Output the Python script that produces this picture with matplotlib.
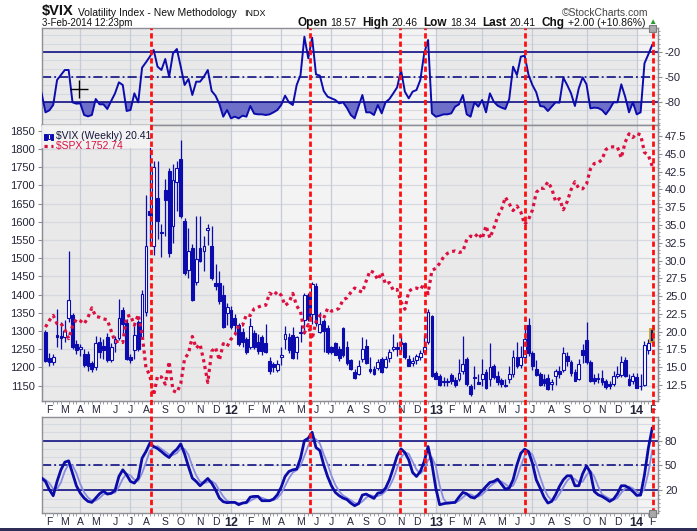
import numpy as np
import pandas as pd
import matplotlib
matplotlib.use('Agg')
import matplotlib.pyplot as plt
from matplotlib.lines import Line2D
from matplotlib.patches import Rectangle
import matplotlib.transforms as mtransforms

plt.rcParams['font.family'] = ['Liberation Sans', 'DejaVu Sans']

# ---------------- data ----------------
dates = pd.date_range('2011-01-31', periods=158, freq='W-MON')

vix_open = [20.0, 16.3, 15.7, 19.5, 19.4, 19.2, 21.9, 22.3, 18.3, 17.5,
            16.9, 16.9, 15.6, 15.0, 18.6, 18.0, 19.3, 16.0, 18.4, 19.1,
            23.0, 21.2, 16.5, 17.4, 21.3, 19.3, 22.7, 37.0, 32.0, 38.8,
            34.0, 39.9, 42.6, 34.8, 41.0, 44.3, 35.6, 28.6, 31.7, 27.0,
            31.7, 31.3, 34.3, 32.0, 26.9, 26.8, 25.2, 22.6, 23.0, 21.9,
            21.0, 19.9, 19.0, 17.9, 19.8, 18.6, 19.3, 18.4, 15.9, 15.5,
            14.6, 16.4, 19.0, 19.3, 19.5, 17.2, 19.8, 21.6, 25.1, 22.5,
            26.4, 20.0, 21.5, 20.5, 17.9, 18.4, 17.6, 20.5, 17.9, 16.0,
            14.3, 14.1, 16.2, 18.0, 14.8, 14.8, 14.9, 16.1, 15.0, 16.3,
            17.6, 17.8, 18.2, 18.4, 16.1, 15.6, 16.0, 16.5, 17.1, 18.5,
            22.2, 14.2, 13.8, 13.0, 13.1, 13.9, 13.2, 13.4, 14.5, 16.2,
            12.4, 13.5, 12.9, 13.4, 14.3, 13.4, 15.1, 13.7, 13.2, 12.5,
            13.4, 14.1, 16.4, 15.3, 16.5, 20.9, 17.0, 14.7, 14.1, 13.3,
            13.5, 12.6, 13.7, 14.4, 14.6, 16.6, 15.8, 14.3, 13.4, 17.4,
            18.8, 15.8, 13.5, 13.3, 13.5, 13.0, 12.6, 12.6, 13.8, 13.9,
            16.0, 13.4, 13.0, 13.6, 12.3, 12.5, 17.4, 18.57]
vix_high = [20.2, 17.0, 16.9, 23.2, 21.3, 21.6, 31.3, 22.6, 18.8, 18.2,
            17.6, 17.3, 15.9, 19.4, 19.2, 18.9, 19.8, 18.4, 19.4, 24.6,
            23.4, 21.8, 16.9, 20.8, 21.7, 25.9, 39.2, 48.0, 44.0, 44.0,
            35.2, 41.5, 43.0, 43.5, 44.0, 46.9, 36.0, 34.6, 32.3, 36.3,
            36.2, 33.5, 35.2, 34.8, 29.5, 28.5, 26.5, 24.0, 23.6, 22.5,
            21.2, 20.5, 19.3, 21.9, 20.3, 19.6, 19.5, 21.1, 16.5, 15.8,
            16.0, 17.9, 20.8, 19.8, 20.6, 19.4, 20.9, 25.5, 25.4, 27.0,
            26.8, 22.7, 21.8, 21.0, 18.0, 18.5, 18.0, 20.7, 18.7, 16.2,
            14.8, 16.0, 19.3, 18.9, 16.5, 15.2, 16.1, 16.4, 16.6, 17.5,
            19.6, 18.6, 19.5, 18.6, 16.7, 16.5, 16.8, 17.4, 19.5, 23.2,
            22.4, 14.4, 14.0, 13.6, 13.5, 14.2, 13.6, 16.2, 19.4, 16.5,
            12.6, 15.2, 14.0, 16.2, 14.8, 18.4, 15.4, 14.5, 13.5, 13.3,
            15.2, 17.4, 18.5, 18.0, 21.0, 21.9, 17.3, 16.0, 14.3, 14.0,
            14.0, 13.4, 14.8, 15.1, 17.8, 17.2, 16.0, 14.8, 16.1, 18.2,
            21.4, 16.0, 14.0, 14.2, 14.6, 13.3, 13.0, 14.4, 15.1, 16.6,
            16.4, 14.0, 14.2, 14.2, 14.0, 18.7, 19.0, 20.46]
vix_low = [15.7, 15.1, 15.3, 17.8, 17.6, 18.5, 21.4, 17.6, 16.9, 16.6,
           15.0, 14.5, 14.3, 14.6, 16.3, 16.2, 15.8, 15.8, 17.2, 18.8,
           19.8, 16.0, 15.6, 16.2, 17.3, 18.9, 22.2, 32.0, 30.8, 33.0,
           30.5, 33.5, 30.5, 32.5, 37.0, 36.0, 27.9, 27.5, 24.3, 26.5,
           29.8, 28.5, 32.2, 27.2, 25.9, 23.9, 20.5, 21.0, 20.4, 20.0,
           18.0, 17.9, 16.8, 17.5, 17.5, 16.8, 16.7, 17.0, 14.0, 14.3,
           14.3, 15.3, 17.5, 17.0, 16.2, 16.1, 18.6, 19.7, 21.5, 21.1,
           20.8, 19.8, 17.2, 16.9, 16.8, 16.7, 15.9, 16.4, 15.3, 14.6,
           13.3, 13.9, 15.8, 15.4, 14.2, 13.9, 14.6, 14.2, 14.9, 15.8,
           17.3, 16.6, 17.2, 16.2, 15.1, 15.2, 15.5, 16.0, 16.8, 18.2,
           13.6, 13.3, 12.4, 12.3, 12.3, 12.6, 12.2, 13.0, 14.0, 12.4,
           11.0, 11.9, 12.6, 12.4, 12.0, 12.3, 13.3, 12.5, 12.2, 12.2,
           12.8, 13.6, 14.9, 14.9, 15.6, 16.6, 14.6, 13.8, 12.3, 12.4,
           11.8, 11.8, 12.5, 13.5, 14.3, 15.2, 13.8, 13.0, 13.2, 15.6,
           15.5, 12.9, 12.6, 12.8, 12.5, 12.0, 12.0, 12.4, 13.5, 13.6,
           13.6, 12.3, 12.7, 12.1, 11.8, 12.3, 16.8, 18.34]
vix_close = [15.9, 15.7, 16.4, 19.2, 19.1, 20.1, 24.4, 17.9, 17.4, 17.9,
             15.3, 15.1, 14.8, 18.4, 17.1, 17.4, 16.0, 17.9, 18.9, 21.9,
             21.1, 16.1, 16.0, 19.5, 17.5, 25.3, 32.0, 36.4, 43.1, 35.6,
             33.9, 38.5, 31.0, 41.3, 43.0, 36.3, 28.2, 31.3, 24.5, 30.2,
             30.0, 32.0, 34.5, 27.5, 26.4, 24.3, 20.7, 23.4, 20.6, 20.9,
             18.3, 18.5, 17.1, 20.8, 17.8, 17.3, 17.3, 17.1, 14.5, 15.0,
             15.5, 16.7, 19.6, 17.4, 16.3, 19.2, 19.9, 25.1, 21.8, 26.7,
             21.2, 21.1, 20.1, 17.1, 17.1, 16.7, 16.3, 16.7, 15.6, 14.7,
             13.5, 15.2, 17.5, 15.6, 14.5, 14.1, 15.7, 14.3, 16.1, 17.1,
             17.8, 17.6, 18.6, 16.4, 15.1, 15.9, 16.6, 17.0, 17.8, 22.7,
             13.8, 13.4, 12.5, 12.9, 12.9, 13.0, 12.5, 14.2, 15.4, 12.6,
             11.3, 13.6, 12.7, 14.0, 12.1, 15.0, 13.6, 12.9, 12.6, 12.4,
             14.1, 16.4, 15.2, 16.5, 18.9, 17.0, 15.1, 13.9, 12.5, 12.8,
             12.0, 12.9, 14.4, 14.0, 17.0, 15.9, 14.2, 13.1, 15.5, 16.7,
             15.7, 13.0, 13.1, 13.3, 12.9, 12.2, 12.3, 13.7, 14.1, 15.8,
             13.8, 12.5, 13.8, 12.1, 12.4, 18.1, 18.4, 20.41]

spx_close = [1310.9, 1329.2, 1343.0, 1319.9, 1321.2, 1304.3, 1279.2, 1313.8, 1332.4, 1328.2,
             1319.7, 1337.4, 1363.6, 1340.2, 1337.8, 1333.3, 1331.1, 1300.2, 1271.0, 1271.5,
             1268.5, 1339.7, 1343.8, 1316.1, 1345.0, 1292.3, 1199.4, 1178.8, 1123.5, 1176.8,
             1174.0, 1154.2, 1216.0, 1136.4, 1131.4, 1155.5, 1224.6, 1238.3, 1285.1, 1253.2,
             1263.9, 1215.7, 1158.7, 1244.3, 1255.2, 1219.7, 1265.3, 1257.6, 1277.8, 1289.1,
             1315.4, 1316.3, 1344.9, 1342.6, 1361.2, 1365.7, 1369.6, 1370.9, 1404.2, 1397.1,
             1408.5, 1398.1, 1370.3, 1378.5, 1403.4, 1369.1, 1353.4, 1295.2, 1317.8, 1278.0,
             1325.7, 1342.8, 1335.0, 1362.2, 1354.7, 1356.8, 1362.7, 1386.0, 1391.0, 1405.9,
             1418.2, 1411.1, 1406.6, 1437.9, 1465.8, 1460.2, 1440.7, 1460.9, 1428.6, 1433.2,
             1411.9, 1414.2, 1379.9, 1359.9, 1409.2, 1416.2, 1418.1, 1413.6, 1430.2, 1402.4,
             1466.5, 1472.1, 1486.0, 1503.0, 1513.2, 1517.9, 1519.8, 1515.6, 1518.2, 1551.2,
             1560.7, 1556.9, 1569.2, 1553.3, 1588.9, 1555.3, 1582.2, 1614.4, 1633.7, 1667.5,
             1649.6, 1630.7, 1643.4, 1626.7, 1592.4, 1606.3, 1631.9, 1680.2, 1692.1, 1691.7,
             1709.7, 1691.4, 1655.8, 1663.5, 1633.0, 1655.2, 1688.0, 1709.9, 1691.8, 1690.5,
             1703.2, 1744.5, 1759.8, 1761.6, 1770.6, 1798.2, 1804.8, 1805.8, 1805.1, 1775.3,
             1818.3, 1841.4, 1831.4, 1842.4, 1838.7, 1790.3, 1782.6, 1752.74]

# indicator series start one bar before the first candle (index -1)
williams_r = [-69.6, -92.4, -90.0, -83.6, -53.6, -47.6, -41.6, -41.6, -80.4, -82.0,
              -81.6, -95.6, -97.2, -95.6, -76.4, -82.8, -82.8, -88.4, -78.8, -69.6,
              -56.4, -59.6, -90.8, -89.6, -69.6, -80.4, -38.8, -32.4, -25.6, -17.6,
              -37.6, -41.6, -28.4, -49.6, -21.6, -16.4, -37.6, -59.6, -52.4, -71.6,
              -55.6, -55.6, -49.6, -41.6, -66.8, -72.4, -82.4, -97.6, -89.6, -99.6,
              -97.6, -99.6, -96.4, -97.6, -84.8, -94.0, -94.8, -94.8, -95.6, -94.8,
              -92.4, -89.6, -83.6, -72.4, -80.4, -83.6, -59.6, -47.6, -1.6, -27.6,
              -2.8, -46.8, -48.4, -66.8, -73.6, -75.6, -77.6, -81.6, -80.4, -87.0,
              -95.6, -99.6, -85.6, -71.6, -92.4, -92.4, -95.6, -83.6, -93.6, -80.4,
              -76.4, -69.6, -62.4, -41.6, -67.6, -75.6, -67.6, -65.6, -53.6, -21.6,
              -5.6, -93.6, -97.6, -96.4, -94.8, -94.8, -93.6, -85.6, -82.8, -71.6,
              -94.8, -97.6, -80.4, -85.6, -77.6, -92.4, -69.6, -79.6, -84.4, -86.8,
              -88.4, -76.4, -37.6, -47.6, -25.6, -24.4, -47.6, -59.6, -68.4, -84.8,
              -85.6, -90.8, -85.6, -80.4, -80.8, -50.8, -59.6, -69.6, -84.8, -63.6,
              -50.4, -58.8, -87.6, -86.8, -87.2, -89.6, -94.8, -88.4, -80.4, -80.4,
              -58.8, -73.6, -92.4, -80.4, -94.8, -92.4, -33.6, -22.8, -11.6]

stoch_k = [34.8, 30.8, 20.8, 13.6, 30.8, 44.8, 54.0, 55.6, 40.8, 25.6,
           16.8, 10.8, 6.8, 5.6, 10.8, 16.0, 19.2, 15.6, 16.4, 20.0,
           36.8, 44.8, 38.8, 30.8, 28.8, 34.8, 58.8, 66.8, 76.8, 72.8,
           70.4, 66.8, 62.8, 59.6, 65.6, 69.6, 76.0, 64.0, 48.8, 34.8,
           30.8, 25.6, 30.0, 34.4, 28.8, 20.8, 10.8, 6.4, 5.2, 5.6,
           5.6, 2.8, 4.8, 5.6, 12.0, 12.8, 12.8, 7.6, 7.6, 7.6,
           9.6, 14.8, 24.0, 36.8, 42.8, 44.8, 45.6, 58.8, 80.0, 82.8,
           90.0, 71.6, 68.0, 50.8, 36.8, 25.6, 17.6, 13.6, 10.8, 9.0,
           4.8, 1.6, 4.0, 14.4, 15.6, 12.8, 10.4, 16.8, 17.6, 22.8,
           32.8, 46.8, 61.6, 70.0, 65.6, 56.8, 41.6, 36.8, 42.8, 54.8,
           72.8, 52.0, 22.8, 2.8, 4.0, 4.8, 5.2, 5.6, 12.0, 17.6,
           16.0, 12.0, 10.8, 14.8, 19.6, 24.8, 29.6, 30.8, 33.6, 27.6,
           21.6, 22.8, 32.8, 50.8, 64.8, 69.6, 66.8, 52.8, 32.8, 22.8,
           12.0, 4.8, 6.8, 14.8, 24.8, 32.8, 37.6, 37.6, 25.6, 25.6,
           40.0, 49.6, 41.6, 18.8, 14.8, 12.8, 10.0, 6.8, 9.6, 16.0,
           25.6, 25.6, 22.8, 18.8, 14.0, 14.4, 38.8, 70.8, 94.8]
stoch_d = [36.0, 33.0, 28.8, 21.7, 21.7, 29.7, 43.2, 51.5, 50.1, 40.7,
           27.7, 17.7, 11.5, 7.7, 7.7, 10.8, 15.3, 16.9, 17.1, 17.3,
           24.4, 33.9, 40.1, 38.1, 32.8, 31.5, 40.8, 53.5, 67.5, 72.1,
           73.3, 70.0, 66.7, 63.1, 62.7, 64.9, 70.4, 69.9, 62.9, 49.2,
           38.1, 30.4, 28.8, 30.0, 31.1, 28.0, 20.1, 12.7, 7.5, 5.7,
           5.5, 4.7, 4.4, 4.4, 7.5, 10.1, 12.5, 11.1, 9.3, 7.6,
           8.3, 10.7, 16.1, 25.2, 34.5, 41.5, 44.4, 49.7, 61.5, 73.9,
           84.3, 81.5, 76.5, 63.5, 51.9, 37.7, 26.7, 18.9, 14.0, 11.1,
           8.2, 5.1, 3.5, 6.7, 11.3, 14.3, 12.9, 13.3, 14.9, 19.1,
           24.4, 34.1, 47.1, 59.5, 65.7, 64.1, 54.7, 45.1, 40.4, 44.8,
           56.8, 59.9, 49.2, 25.9, 9.9, 3.9, 4.7, 5.2, 7.6, 11.7,
           15.2, 15.2, 12.9, 12.5, 15.1, 19.7, 24.7, 28.4, 31.3, 30.7,
           27.6, 24.0, 25.7, 35.5, 49.5, 61.7, 67.1, 63.1, 50.8, 36.1,
           22.5, 13.2, 7.9, 8.8, 15.5, 24.1, 31.7, 36.0, 33.6, 29.6,
           30.4, 38.4, 43.7, 36.7, 25.1, 15.5, 12.5, 9.9, 8.8, 10.8,
           17.1, 22.4, 24.7, 22.4, 18.5, 15.7, 22.4, 41.3, 68.1]

signal_bars = [27.4, 68.5, 91.8, 98.3, 124.2, 157.1]

spx_ticks = list(range(1150, 1851, 50))
vix_ticks = [12.5, 15.0, 17.5, 20.0, 22.5, 25.0, 27.5, 30.0, 32.5, 35.0, 37.5, 40.0, 42.5, 45.0, 47.5]
wr_ticks = [-80, -50, -20]
st_ticks = [20, 50, 80]

# ---------------- layout ----------------
W, H = 697, 531
fig = plt.figure(figsize=(W / 100, H / 100), dpi=100)
fig.patch.set_facecolor('white')


def rect(x0, y0, x1, y1):
    return [x0 / W, 1 - y1 / H, (x1 - x0) / W, (y1 - y0) / H]


ax_t = fig.add_axes(rect(42, 28, 658, 124.5))
ax_v = fig.add_axes(rect(42, 124.5, 658, 401))
ax_s = ax_v.twinx()
ax_b = fig.add_axes(rect(42, 417, 658, 513))

BLUE = '#0c0cae'
NAVY = '#00007a'
GRID = '#d6d9e1'
VGRID = '#c6cbd6'
SPINE = '#8e8e96'
TXT = '#25253a'
XL = (-0.9, 158.5)

x = np.arange(len(dates))
xi = np.arange(-1, len(dates))

month_pos, month_lab, quarter_pos, year_pos = [], [], [], []
for i in range(1, len(dates)):
    if dates[i].month != dates[i - 1].month:
        m = dates[i].month
        month_pos.append(i)
        month_lab.append(dates[i].strftime('%y') if m == 1 else 'JFMAMJJASOND'[m - 1])
        if m in (1, 4, 7, 10):
            quarter_pos.append(i)
        if m == 1:
            year_pos.append(i)

bounds = [XL[0]] + year_pos + [XL[1]]


def base(ax):
    ax.set_xlim(*XL)
    ax.set_facecolor('#ebebeb')
    for k in range(len(bounds) - 1):
        ax.axvspan(bounds[k], bounds[k + 1], color='#e9e9e9' if k % 2 == 0 else '#f3f3f3', lw=0, zorder=0)
    for q in quarter_pos:
        ax.axvline(q, color=VGRID, lw=0.9, zorder=0.6)
    for sp in ax.spines.values():
        sp.set_color(SPINE)
        sp.set_linewidth(1.0)


# ---- top panel: Williams %R ----
base(ax_t)
ax_t.set_ylim(-107, 8.8)
for g in range(-100, 1, 10):
    ax_t.axhline(g, color=GRID, lw=0.8, zorder=0.5)
wr = np.array(williams_r)
ax_t.fill_between(xi, wr, -80, where=wr <= -80, interpolate=True, color='#6d6fc8', lw=0, zorder=2)
ax_t.axhline(-20, color=NAVY, lw=1.1, zorder=2.5)
ax_t.axhline(-80, color=NAVY, lw=1.1, zorder=2.5)
ax_t.axhline(-50, color=NAVY, lw=1.1, ls=(0, (6, 2, 1.2, 2)), zorder=2.5)
ax_t.plot(xi, wr, color=BLUE, lw=1.4, zorder=3)
ax_t.yaxis.tick_right()
ax_t.set_yticks(wr_ticks)
ax_t.set_yticklabels([str(t) for t in wr_ticks])
ax_t.set_yticks(np.arange(-105, 9, 5), minor=True)
ax_t.tick_params(axis='y', which='major', length=3, color=SPINE, labelsize=8, labelcolor=TXT, pad=2)
ax_t.tick_params(axis='y', which='minor', length=1.5, color=SPINE)
ax_t.set_xticks([])
# mouse cursor cross-hair seen in the screenshot
ax_t.plot([0.0605], [0.37], transform=ax_t.transAxes, marker='+', ms=13, mew=1.0, color='black', zorder=6)

# ---- middle panel: VIX candles + SPX ----
base(ax_v)
ax_v.set_ylim(10.25, 49.12)
ax_s.set_ylim(1108.0, 1867.0)
blend_s = mtransforms.blended_transform_factory(ax_v.transAxes, ax_s.transData)
for g in spx_ticks:
    ax_v.add_line(Line2D([0, 1], [g, g], transform=blend_s, color=GRID, lw=0.9, zorder=0.5))

o = np.array(vix_open); h = np.array(vix_high); l = np.array(vix_low); c = np.array(vix_close)
ax_v.vlines(x, l, h, color=BLUE, lw=0.9, zorder=2)
bottom = np.minimum(o, c)
height = np.maximum(np.abs(c - o), 0.12)
hollow = c > o
face = np.where(hollow, 'white', BLUE)
ax_v.bar(x[:-1], height[:-1], bottom=bottom[:-1], width=0.72, color=face[:-1], edgecolor=BLUE,
         linewidth=0.8, zorder=3)
# current (highlighted) week
ax_v.bar(x[-1:], height[-1:], bottom=bottom[-1:], width=0.95, color=BLUE, edgecolor='#c9a21a',
         linewidth=1.3, zorder=3)

ax_s.patch.set_visible(False)
ax_s.plot(x, spx_close, color='#dc1040', lw=2.3, ls=(0, (1.0, 1.15)), zorder=4)

ax_v.yaxis.tick_right()
ax_v.set_yticks(vix_ticks)
ax_v.set_yticklabels(['%.1f' % t for t in vix_ticks])
ax_v.set_yticks(np.arange(10.5, 49.1, 0.5), minor=True)
ax_v.tick_params(axis='y', which='major', length=3, color=SPINE, labelsize=8, labelcolor=TXT, pad=2)
ax_v.tick_params(axis='y', which='minor', length=1.5, color=SPINE)
ax_s.yaxis.tick_left()
ax_s.set_yticks(spx_ticks)
ax_s.set_yticklabels([str(t) for t in spx_ticks])
ax_s.tick_params(axis='y', length=3, color=SPINE, labelsize=8, labelcolor=TXT, pad=2)
for sp in ax_s.spines.values():
    sp.set_color(SPINE)


def xlabels(ax):
    ax.set_xticks(month_pos)
    ax.set_xticklabels(month_lab)
    ax.set_xticks(x, minor=True)
    ax.tick_params(axis='x', which='major', length=0, labelsize=7.5, labelcolor=TXT, pad=3)
    ax.tick_params(axis='x', which='minor', length=2, width=0.6, color=SPINE)
    for t, lab in zip(ax.get_xticklabels(), month_lab):
        if lab.isdigit():
            t.set_fontweight('bold')
            t.set_fontsize(9)


xlabels(ax_v)

# legend
ax_s.add_patch(Rectangle((0, 0.915), 0.178, 0.085, transform=ax_s.transAxes, facecolor='#f4f4f4',
                         edgecolor='none', alpha=0.9, zorder=5))
ax_s.text(0.022, 0.957, '$VIX (Weekly) 20.41', transform=ax_s.transAxes, fontsize=7.5,
          color='#16163c', va='center', ha='left', zorder=6)
ax_s.text(0.022, 0.922, '$SPX 1752.74', transform=ax_s.transAxes, fontsize=7.5,
          color='#dc1040', va='center', ha='left', zorder=6)
for dx, (bb, hh, filled) in zip([0.004, 0.009, 0.014], [(0.945, 0.02, True), (0.948, 0.017, False), (0.944, 0.022, True)]):
    ax_s.add_patch(Rectangle((dx, bb), 0.004, hh, transform=ax_s.transAxes,
                             facecolor=BLUE if filled else 'white', edgecolor=BLUE, lw=0.7, zorder=6))
ax_s.plot([0.004, 0.018], [0.923, 0.923], transform=ax_s.transAxes, color='#dc1040', lw=2.3,
          ls=(0, (1.0, 1.15)), zorder=6)

# ---- bottom panel: slow stochastic ----
base(ax_b)
ax_b.set_ylim(-7.2, 108.4)
for g in range(0, 101, 10):
    ax_b.axhline(g, color=GRID, lw=0.8, zorder=0.5)
ax_b.axhline(80, color=NAVY, lw=1.1, zorder=2.5)
ax_b.axhline(20, color=NAVY, lw=1.1, zorder=2.5)
ax_b.axhline(50, color=NAVY, lw=1.1, ls=(0, (6, 2, 1.2, 2)), zorder=2.5)
ax_b.plot(xi, stoch_d, color='#8a8ce2', lw=1.3, zorder=3)
ax_b.plot(xi, stoch_k, color='#0b0ba8', lw=2.0, zorder=4)
ax_b.yaxis.tick_right()
ax_b.set_yticks(st_ticks)
ax_b.set_yticklabels([str(t) for t in st_ticks])
ax_b.set_yticks(np.arange(-5, 108, 5), minor=True)
ax_b.tick_params(axis='y', which='major', length=3, color=SPINE, labelsize=8, labelcolor=TXT, pad=2)
ax_b.tick_params(axis='y', which='minor', length=1.5, color=SPINE)
xlabels(ax_b)

# ---- red signal lines through all panels ----
blend_f = mtransforms.blended_transform_factory(ax_t.transData, fig.transFigure)
for sb in signal_bars:
    fig.add_artist(Line2D([sb, sb], [1 - 513 / H, 1 - 28 / H], transform=blend_f, color='#ff1010',
                          lw=2.0, ls=(0, (1.9, 1.1)), zorder=20))

# resize handles
for yy in (28.5, 513.5):
    fig.add_artist(Rectangle(((652 - 3.5) / W, 1 - (yy + 3.5) / H), 7 / W, 7 / H, transform=fig.transFigure,
                             facecolor='#a9a9a9', edgecolor='#7d7d7d', lw=0.8, zorder=21))

# ---- header ----
renderer = fig.canvas.get_renderer()
t1 = fig.text(42 / W, 1 - 15.5 / H, '$VIX', fontsize=10.5, fontweight='bold', color='#111111', va='baseline')
bb = t1.get_window_extent(renderer)
t2 = fig.text((bb.x1 + 4) / W, 1 - 15.5 / H, 'Volatility Index - New Methodology', fontsize=7.5,
              color='#111111', va='baseline')
bb = t2.get_window_extent(renderer)
fig.text((bb.x1 + 8) / W, 1 - 15.5 / H, 'INDX', fontsize=6.5, color='#111111', va='baseline')
fig.text(42 / W, 1 - 26 / H, '3-Feb-2014 12:23pm', fontsize=7, color='#111111', va='baseline')
fig.text(648 / W, 1 - 16 / H, '\u00a9StockCharts.com', fontsize=7.5, color='#444444', va='baseline', ha='right')

pieces = [('Open', 8.5, 'bold', 3), ('18.57', 7.5, 'normal', 6), ('High', 8.5, 'bold', 3),
          ('20.46', 7.5, 'normal', 6), ('Low', 8.5, 'bold', 3), ('18.34', 7.5, 'normal', 6),
          ('Last', 8.5, 'bold', 3), ('20.41', 7.5, 'normal', 6), ('Chg', 8.5, 'bold', 3),
          ('+2.00 (+10.86%)', 7.5, 'normal', 0)]
xr = 645
for txt, fs, wt, gap in reversed(pieces):
    xr -= gap
    t = fig.text(xr / W, 1 - 26 / H, txt, fontsize=fs, fontweight=wt, color='#111111', va='baseline', ha='right')
    xr -= t.get_window_extent(renderer).width
fig.text(652 / W, 1 - 22 / H, '\u25b2', fontsize=6, color='#2c9a2c', ha='center', va='center')

# bottom frame strip
fig.add_artist(Rectangle((0, 0), 1, 3 / H, transform=fig.transFigure, facecolor='#2d2d57', edgecolor='none'))

fig.savefig('out.png', dpi=100, facecolor='white')
